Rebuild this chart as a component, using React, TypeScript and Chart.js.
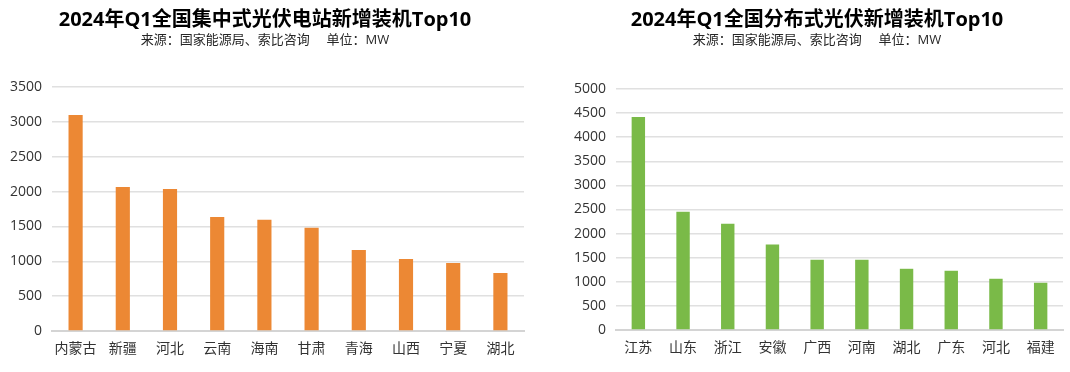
import React, { useEffect, useRef } from "react";
import { Chart, registerables } from "chart.js";

Chart.register(...registerables);

const centralCategories = ["内蒙古", "新疆", "河北", "云南", "海南", "甘肃", "青海", "山西", "宁夏", "湖北"];
const centralValues = [3100, 2066, 2037, 1635, 1597, 1482, 1162, 1033, 975, 832];
const centralMax = 3500;

const distributedCategories = ["江苏", "山东", "浙江", "安徽", "广西", "河南", "湖北", "广东", "河北", "福建"];
const distributedValues = [4420, 2451, 2203, 1774, 1457, 1457, 1270, 1229, 1063, 980];
const distributedMax = 5000;

const tickStep = 500;

const centralTitle = "2024年Q1全国集中式光伏电站新增装机Top10";
const distributedTitle = "2024年Q1全国分布式光伏新增装机Top10";
const subtitleText = "来源：国家能源局、索比咨询     单位：MW";

const FONT = '"Open Sans", "Noto Sans CJK SC", sans-serif';

type Props = {
  categories: string[];
  values: number[];
  max: number;
  color: string;
  title: string;
  left: number;
  padLeft: number;
  padRight: number;
  yWidth: number;
  xHeight: number;
  subPadBottom: number;
};

function BarChart(p: Props) {
  const ref = useRef<HTMLCanvasElement | null>(null);
  useEffect(() => {
    if (!ref.current) return;
    const chart = new Chart(ref.current, {
      type: "bar",
      data: {
        labels: p.categories,
        datasets: [
          {
            data: p.values,
            backgroundColor: p.color,
            borderWidth: 0,
            barPercentage: 0.3,
            categoryPercentage: 1,
          },
        ],
      },
      options: {
        responsive: false,
        animation: false,
        devicePixelRatio: 1,
        layout: { padding: { left: p.padLeft, right: p.padRight, top: 0, bottom: 0 } },
        plugins: {
          legend: { display: false },
          tooltip: { enabled: false },
          title: {
            display: true,
            text: p.title,
            color: "#000",
            font: { family: FONT, size: 20, weight: "bold" },
            padding: { top: 8, bottom: 0 },
          },
          subtitle: {
            display: true,
            text: subtitleText,
            color: "#262626",
            font: { family: FONT, size: 13 },
            padding: { top: 0, bottom: p.subPadBottom },
          },
        },
        scales: {
          x: {
            grid: { display: false, drawTicks: false },
            border: { display: true, color: "#d4d4d4", width: 2 },
            ticks: { color: "#333", font: { family: FONT, size: 14 }, padding: 10, maxRotation: 0, autoSkip: false },
            afterFit: (s: any) => {
              s.height = p.xHeight;
            },
          },
          y: {
            min: 0,
            max: p.max,
            grid: { color: "#e0e0e0", lineWidth: 1.5, drawTicks: false },
            border: { display: false },
            ticks: {
              stepSize: tickStep,
              color: "#333",
              font: { family: FONT, size: 14 },
              padding: 10,
              callback: (v: any) => String(v),
            },
            afterFit: (s: any) => {
              s.width = p.yWidth;
            },
          },
        },
      },
    } as any);
    return () => chart.destroy();
  }, []);
  return (
    <canvas
      ref={ref}
      width={535}
      height={372}
      style={{ position: "absolute", left: p.left, top: 0, width: 535, height: 372 }}
    />
  );
}

export default function App() {
  return (
    <div style={{ position: "absolute", left: 0, top: 0, width: 1070, height: 372, background: "#fff" }}>
      <BarChart
        categories={centralCategories}
        values={centralValues}
        max={centralMax}
        color="#ec8834"
        title={centralTitle}
        left={0}
        padLeft={6}
        padRight={11}
        yWidth={46}
        xHeight={41}
        subPadBottom={39.4}
      />
      <BarChart
        categories={distributedCategories}
        values={distributedValues}
        max={distributedMax}
        color="#7aba48"
        title={distributedTitle}
        left={535}
        padLeft={36}
        padRight={7}
        yWidth={45}
        xHeight={42}
        subPadBottom={41.4}
      />
    </div>
  );
}
